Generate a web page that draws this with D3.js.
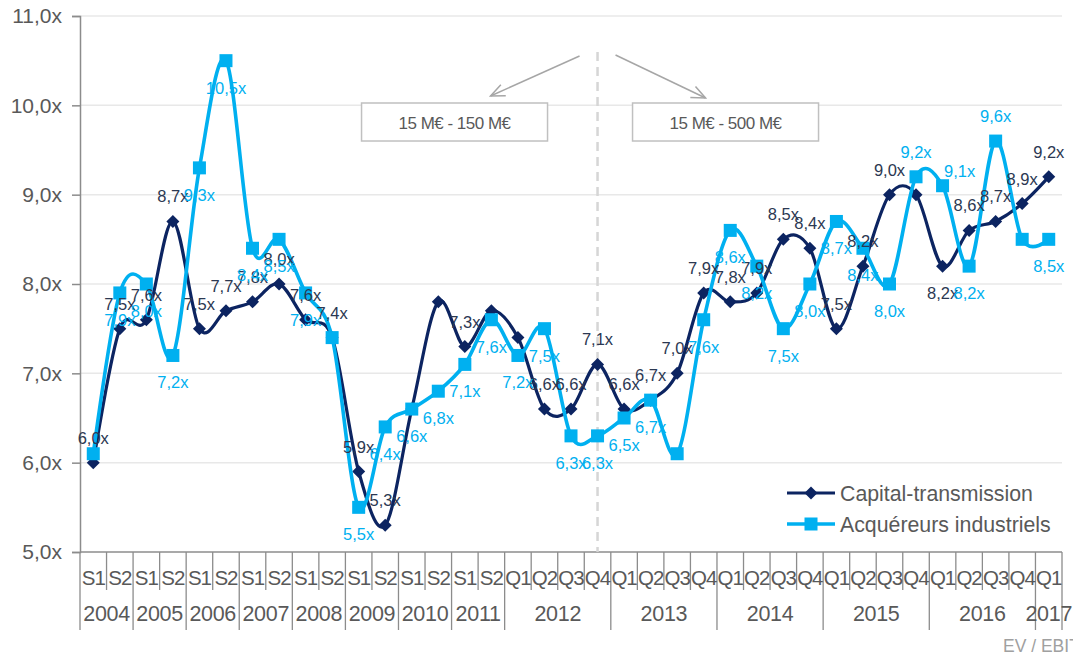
<!DOCTYPE html>
<html>
<head>
<meta charset="utf-8">
<script src="https://cdn.jsdelivr.net/npm/d3@7"></script>
<style>
  body { margin: 0; background: #fff; }
  text { font-family: "Liberation Sans", Arial, sans-serif; }
</style>
</head>
<body>
<div id="chart"></div>
<script>
// data
var years = ["2004", "2005", "2006", "2007", "2008", "2009", "2010", "2011",
             "2012", "2013", "2014", "2015", "2016", "2017"];
var yearPeriods = [
    ["S1", "S2"], ["S1", "S2"], ["S1", "S2"], ["S1", "S2"],
    ["S1", "S2"], ["S1", "S2"], ["S1", "S2"], ["S1", "S2"],
    ["Q1", "Q2", "Q3", "Q4"], ["Q1", "Q2", "Q3", "Q4"], ["Q1", "Q2", "Q3", "Q4"],
    ["Q1", "Q2", "Q3", "Q4"], ["Q1", "Q2", "Q3", "Q4"], ["Q1"]
];
var capital = [6.0, 7.5, 7.6, 8.7, 7.5, 7.7, 7.8, 8.0, 7.6, 7.4, 5.9, 5.3, 6.6, 7.8, 7.3, 7.7,
               7.4, 6.6, 6.6, 7.1, 6.6, 6.7, 7.0, 7.9, 7.8, 7.9, 8.5, 8.4, 7.5, 8.2, 9.0, 9.0,
               8.2, 8.6, 8.7, 8.9, 9.2];
var industriels = [6.1, 7.9, 8.0, 7.2, 9.3, 10.5, 8.4, 8.5, 7.9, 7.4, 5.5, 6.4, 6.6, 6.8, 7.1, 7.6,
                   7.2, 7.5, 6.3, 6.3, 6.5, 6.7, 6.1, 7.6, 8.6, 8.2, 7.5, 8.0, 8.7, 8.4, 8.0, 9.2,
                   9.1, 8.2, 9.6, 8.5, 8.5];
// where each data label sits: a = above, b = below, ar = above right, "" = not shown
var capitalLabelPos = ["a","a","a","a","a","a","a","a","a","a","a","a","","","a","",
                       "","a","a","a","a","a","a","a","a","a","a","a","a","a","a","",
                       "b","a","a","a","a"];
var industrielsLabelPos = ["","b","b","b","b","b","b","b","b","","b","b","b","b","b","b",
                           "b","b","b","b","b","b","","b","b","b","b","b","b","b","b","a",
                           "ar","b","a","","b"];
var yTicks = [5, 6, 7, 8, 9, 10, 11];
var seriesNames = ["Capital-transmission", "Acquéreurs industriels"];
var rangeLabels = ["15 M€ - 150 M€", "15 M€ - 500 M€"];
var splitIndex = 19;   // 2012 Q4
var unitLabel = "EV / EBIT";

var W = 1073, H = 655;
var m = { l: 80, r: 1062, t: 16, b: 552 };
var navy = "#0c2461", cyan = "#00b0f0", grey = "#595959";

var categories = [];
years.forEach(function (yr, i) {
    yearPeriods[i].forEach(function (p) { categories.push({ year: yr, period: p, key: yr + p }); });
});

var svg = d3.select("#chart").append("svg")
    .attr("width", W)
    .attr("height", H);

var x = d3.scaleBand().domain(categories.map(function (d) { return d.key; })).range([m.l, m.r]);
var y = d3.scaleLinear().domain([5, 11]).range([m.b, m.t]);
var cx = function (i) { return x(categories[i].key) + x.bandwidth() / 2; };
var fmt = function (v) { return d3.format(".1f")(v).replace(".", ",") + "x"; };

// gridlines
svg.append("g").selectAll("line")
    .data(yTicks.slice(1))
    .enter().append("line")
    .attr("x1", m.l).attr("x2", m.r)
    .attr("y1", function (d) { return y(d); })
    .attr("y2", function (d) { return y(d); })
    .attr("stroke", "#e8e8e8")
    .attr("stroke-width", 1.5);

// y axis
var yAxis = svg.append("g")
    .attr("transform", "translate(" + m.l + ",0)")
    .call(d3.axisLeft(y).tickValues(yTicks).tickFormat(fmt).tickSize(8).tickPadding(10));
yAxis.selectAll("path, line").attr("stroke", "#8c8c8c").attr("stroke-width", 1.5);
yAxis.selectAll("text").attr("fill", grey).style("font-size", "21px")
    .style("font-family", "'Liberation Sans', Arial, sans-serif");

// category axis, two rows
var cat = svg.append("g");
cat.append("line")
    .attr("x1", m.l).attr("x2", m.r)
    .attr("y1", m.b).attr("y2", m.b)
    .attr("stroke", "#8c8c8c").attr("stroke-width", 1.5);
var edges = d3.range(categories.length + 1);
cat.selectAll("line.sep")
    .data(edges)
    .enter().append("line")
    .attr("class", "sep")
    .attr("x1", function (i) { return m.l + i * x.step(); })
    .attr("x2", function (i) { return m.l + i * x.step(); })
    .attr("y1", m.b)
    .attr("y2", function (i) {
        return (i === 0 || i === categories.length || categories[i].year !== categories[i - 1].year) ? 630 : 590;
    })
    .attr("stroke", "#8c8c8c").attr("stroke-width", 1.3);
cat.selectAll("text.period")
    .data(categories)
    .enter().append("text")
    .attr("class", "period")
    .attr("x", function (d, i) { return cx(i); })
    .attr("y", 585)
    .attr("text-anchor", "middle")
    .attr("fill", grey)
    .style("font-size", "20.5px")
    .style("letter-spacing", "-1px")
    .text(function (d) { return d.period; });
var start = 0;
var yearSpans = years.map(function (yr, i) {
    var s = { year: yr, from: start, to: start + yearPeriods[i].length };
    start = s.to;
    return s;
});
cat.selectAll("text.year")
    .data(yearSpans)
    .enter().append("text")
    .attr("class", "year")
    .attr("x", function (d) { return m.l + (d.from + d.to) / 2 * x.step(); })
    .attr("y", 621)
    .attr("text-anchor", "middle")
    .attr("fill", grey)
    .style("font-size", "21.5px")
    .style("letter-spacing", "-0.3px")
    .text(function (d) { return d.year; });

svg.append("text")
    .attr("x", 1003).attr("y", 652)
    .attr("fill", "#a0a0a0")
    .style("font-size", "17.5px")
    .text(unitLabel);

// split annotation
var sx = cx(splitIndex);
svg.append("line")
    .attr("x1", sx).attr("x2", sx)
    .attr("y1", 52).attr("y2", m.b)
    .attr("stroke", "#d6d6d6").attr("stroke-width", 2.5)
    .attr("stroke-dasharray", "9,6");

svg.append("defs").append("marker")
    .attr("id", "arrow")
    .attr("markerUnits", "userSpaceOnUse")
    .attr("viewBox", "-16 -8 18 16")
    .attr("markerWidth", 18).attr("markerHeight", 16)
    .attr("orient", "auto")
    .append("path")
    .attr("d", "M-14,-6L0,0L-14,6")
    .attr("fill", "none")
    .attr("stroke", "#a6a6a6")
    .attr("stroke-width", 1.5);

var arrows = [[sx - 18, 56, sx - 107, 96], [sx + 18, 55, sx + 108, 98]];
svg.selectAll("line.arrow")
    .data(arrows)
    .enter().append("line")
    .attr("class", "arrow")
    .attr("x1", function (d) { return d[0]; })
    .attr("y1", function (d) { return d[1]; })
    .attr("x2", function (d) { return d[2]; })
    .attr("y2", function (d) { return d[3]; })
    .attr("stroke", "#a6a6a6").attr("stroke-width", 1.5)
    .attr("marker-end", "url(#arrow)");

var boxes = svg.selectAll("g.box")
    .data(rangeLabels)
    .enter().append("g")
    .attr("class", "box")
    .attr("transform", function (d, i) { return "translate(" + (i === 0 ? sx - 236 : sx + 35) + ",103)"; });
boxes.append("rect")
    .attr("width", 186).attr("height", 38)
    .attr("fill", "#fff")
    .attr("stroke", "#c0c0c0").attr("stroke-width", 1.5);
boxes.append("text")
    .attr("x", 93).attr("y", 25.5)
    .attr("text-anchor", "middle")
    .attr("fill", grey)
    .style("font-size", "17px")
    .style("letter-spacing", "-0.5px")
    .text(function (d) { return d; });

// series
var line = d3.line()
    .x(function (d, i) { return cx(i); })
    .y(function (d) { return y(d); })
    .curve(d3.curveCardinal.tension(0));

function diamond(s) { return "M0," + (-s) + "L" + s + ",0L0," + s + "L" + (-s) + ",0Z"; }

svg.append("path").datum(capital)
    .attr("d", line).attr("fill", "none")
    .attr("stroke", navy).attr("stroke-width", 3.2);
svg.append("g").selectAll("path")
    .data(capital)
    .enter().append("path")
    .attr("transform", function (d, i) { return "translate(" + cx(i) + "," + y(d) + ")"; })
    .attr("d", diamond(6.5))
    .attr("fill", navy);

svg.append("path").datum(industriels)
    .attr("d", line).attr("fill", "none")
    .attr("stroke", cyan).attr("stroke-width", 3.6);
svg.append("g").selectAll("rect")
    .data(industriels)
    .enter().append("rect")
    .attr("x", function (d, i) { return cx(i) - 6.5; })
    .attr("y", function (d) { return y(d) - 6.5; })
    .attr("width", 13).attr("height", 13)
    .attr("fill", cyan);

// data labels
function addLabels(values, pos, color) {
    var g = svg.append("g");
    values.forEach(function (v, i) {
        if (!pos[i]) return;
        var dx = pos[i] === "ar" ? 17 : 0;
        var dy = pos[i] === "a" ? -19 : (pos[i] === "ar" ? -9 : 33);
        g.append("text")
            .attr("x", cx(i) + dx)
            .attr("y", y(v) + dy)
            .attr("text-anchor", "middle")
            .attr("fill", color)
            .style("font-size", "16.5px")
            .text(fmt(v));
    });
}
addLabels(capital, capitalLabelPos, "#2b3852");
addLabels(industriels, industrielsLabelPos, cyan);

// legend
var legend = svg.append("g").attr("transform", "translate(787,493)");
seriesNames.forEach(function (name, i) {
    var g = legend.append("g").attr("transform", "translate(0," + i * 31 + ")");
    g.append("line").attr("x1", 0).attr("x2", 48).attr("y1", 0).attr("y2", 0)
        .attr("stroke", i === 0 ? navy : cyan).attr("stroke-width", i === 0 ? 3.2 : 3.6);
    if (i === 0) {
        g.append("path").attr("transform", "translate(24,0)").attr("d", diamond(6.5)).attr("fill", navy);
    } else {
        g.append("rect").attr("x", 17.5).attr("y", -6.5).attr("width", 13).attr("height", 13).attr("fill", cyan);
    }
    g.append("text").attr("x", 53).attr("y", 7.5)
        .attr("fill", grey)
        .style("font-size", "21.3px")
        .text(name);
});
</script>
</body>
</html>
